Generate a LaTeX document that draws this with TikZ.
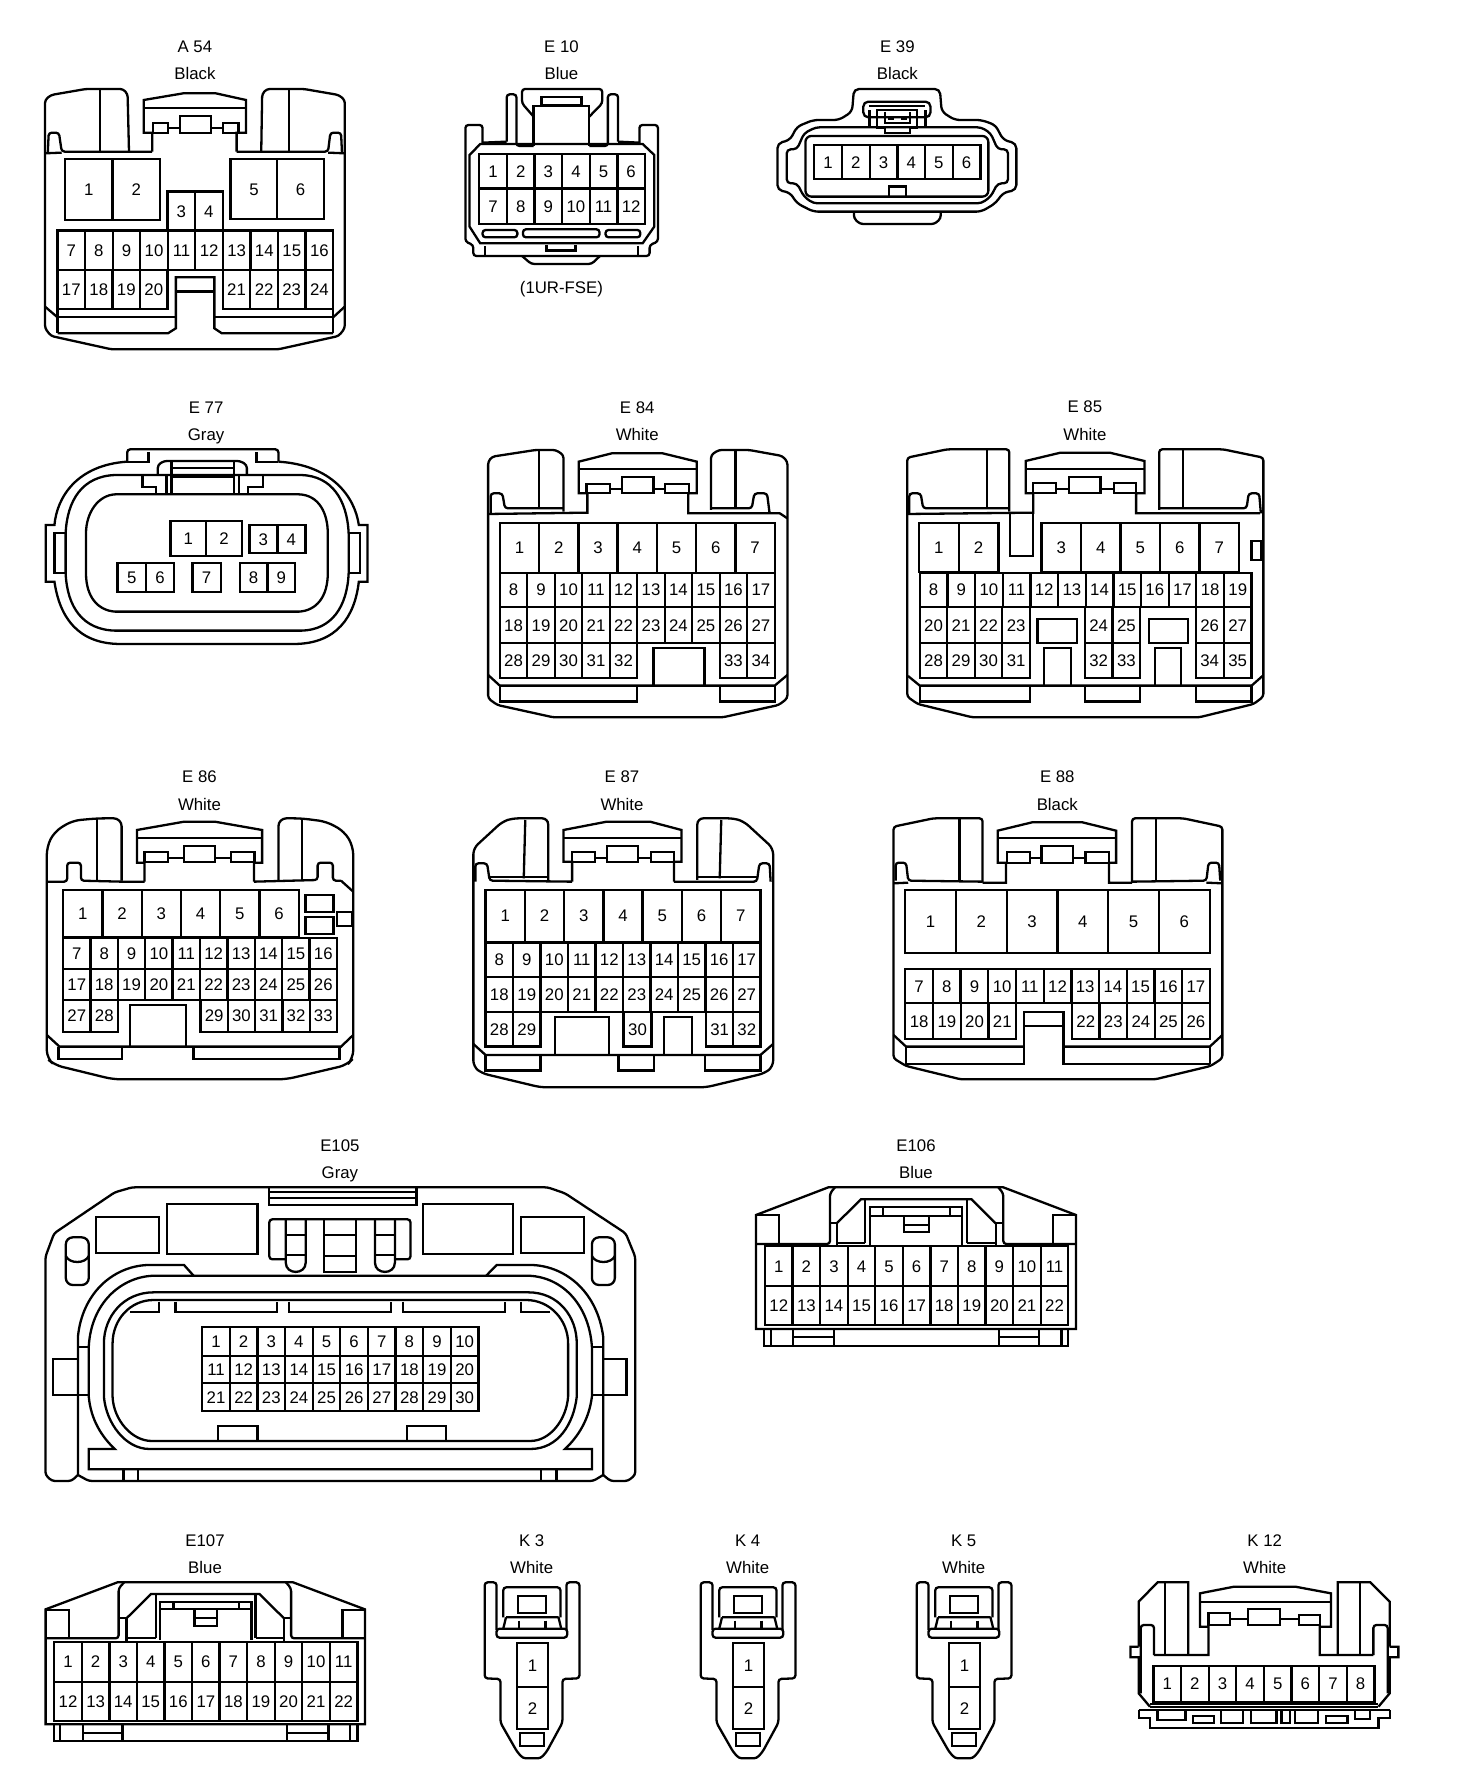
\documentclass[tikz,border=0pt]{standalone}
\usepackage{fontspec}
\setmainfont{Liberation Sans}
\usepackage{tikz}

% one row of equal cavities: name, left, right, top, bottom, first pin, last pin
\newcommand{\pinrow}[7]{%
  \pgfmathsetmacro{\cellw}{(#3-#2)/(#7-#6+1)}
  \foreach \n in {#6,...,#7} {
    \pgfmathsetmacro{\cellx}{#2+(\n-#6)*\cellw}
    \draw (\cellx,#4) rectangle (\cellx+\cellw,#5);
    \node[pinnum] (#1p\n) at ({\cellx+\cellw/2},{(#4+#5)/2}) {\n};
  }
}

\begin{document}
\begin{tikzpicture}[
    x=1pt, y=-1pt,
    line width=2.3pt,
    view/.style n args={3}{shift={(#1,#2)}, x=#3pt, y=-.3333pt},
    shell/.style={rounded corners=3pt},
    pinnum/.style={inner sep=0pt, text height=12pt, text depth=0pt, font=\fontsize{16.8}{18}\selectfont},
    partname/.style={inner sep=0pt, text height=12pt, text depth=0pt, font=\fontsize{16.8}{18}\selectfont},
]
\fill[white] (0,0) rectangle (1456,1774);
\useasboundingbox (0,0) rectangle (1456,1774);

% A 54
\begin{scope}[view={0}{0}{.464}]
\node[partname] (A54name) at (420,140) {A 54};
\node[partname] (A54color) at (420,222) {Black};
\draw[shell] (278,455) -- (275,282) -- (265,267) -- (185,267) -- (110,285) -- (97,300) -- (97,985) -- (110,1008) -- (240,1048) -- (600,1048) -- (730,1008) -- (743,985) -- (743,300) -- (730,285) -- (655,267) -- (575,267) -- (565,282) -- (563,455);
\draw (215,267) -- (215,455) (623,267) -- (623,455);
\draw[shell] (103,458) -- (105,398) -- (127,398) -- (133,455) -- (328,455);
\draw[shell] (737,458) -- (735,398) -- (712,398) -- (707,455) -- (510,455);
\draw (97,460) -- (133,458) (743,460) -- (707,458);
\draw (328,455) -- (328,398) -- (310,398) -- (310,300) -- (395,280) -- (465,280) -- (530,300) -- (530,398) -- (510,398) -- (510,455);
\draw (310,325) -- (530,325);
\draw (330,398) rectangle (362,368) (388,398) rectangle (455,348) (480,398) rectangle (514,368);
\draw (362,385) -- (388,385) (455,385) -- (480,385);
\pinrow{A54}{140}{345}{478}{660}{1}{2}
\pinrow{A54}{361}{480}{575}{692}{3}{4}
\pinrow{A54}{497}{698}{478}{658}{5}{6}
\pinrow{A54}{124}{718}{692}{810}{7}{16}
\pinrow{A54}{124}{361}{810}{928}{17}{20}
\pinrow{A54}{480}{718}{810}{928}{21}{24}
\draw (124,952) -- (379,952) (462,952) -- (718,952);
\draw (97,920) -- (124,952) (743,920) -- (718,952);
\draw (124,928) -- (124,1000) (718,928) -- (718,1000);
\draw (124,1000) -- (362,1000) -- (379,985) -- (379,832) -- (462,832) -- (462,985) -- (478,1000) -- (718,1000);
\draw (379,875) -- (462,875);
\end{scope}

% E 10
\begin{scope}[view={0}{0}{.464}]
\node[partname] (E10name) at (1210,140) {E 10};
\node[partname] (E10color) at (1210,222) {Blue};
\node[partname] (E10note) at (1210,862) {(1UR-FSE)};
\draw[shell] (1040,430) -- (1040,375) -- (1003,375) -- (1003,725) -- (1020,735) -- (1020,768) -- (1400,768) -- (1400,735) -- (1418,725) -- (1418,375) -- (1378,375) -- (1378,430);
\draw (1040,428) -- (1092,425);
\draw[shell] (1092,425) -- (1092,283) -- (1113,283) -- (1113,438) -- (1150,438);
\draw (1150,438) -- (1150,318) -- (1270,318) -- (1270,438);
\draw[shell] (1270,438) -- (1310,438) -- (1310,283) -- (1332,283) -- (1332,425);
\draw (1332,425) -- (1378,428);
\draw[shell] (1150,350) -- (1125,310) -- (1125,267) -- (1298,267) -- (1298,310) -- (1270,350);
\draw (1167,315) rectangle (1253,290);
\draw (1012,465) -- (1035,432) -- (1385,432) -- (1410,465) -- (1410,680) -- (1385,730) -- (1035,730) -- (1012,680) -- cycle;
\pinrow{E10}{1033}{1390}{463}{566}{1}{6}
\pinrow{E10}{1033}{1390}{566}{672}{7}{12}
\draw[shell] (1040,690) rectangle (1115,712);
\draw[shell] (1127,688) rectangle (1292,712);
\draw[shell] (1305,690) rectangle (1380,712);
\draw (1045,738) -- (1045,768) (1375,738) -- (1375,768);
\draw (1178,735) -- (1178,752) -- (1240,752) -- (1240,735);
\draw[shell] (1125,768) -- (1145,792) -- (1275,792) -- (1293,768);
\end{scope}

% E 39
\begin{scope}[view={727}{0}{.4667}]
\node[partname] (E39name) at (365,140) {E 39};
\node[partname] (E39color) at (365,222) {Black};
\draw[rounded corners=5pt] (108,430) -- (135,420) -- (150,380) -- (185,360) -- (240,360) -- (268,335) -- (272,267) -- (456,267) -- (460,335) -- (488,360) -- (545,360) -- (575,375) -- (592,420) -- (620,430) -- (620,570) -- (592,578) -- (575,610) -- (545,635) -- (185,635) -- (150,610) -- (135,578) -- (108,570) -- cycle;
\draw[rounded corners=4pt] (128,448) -- (150,448) -- (165,400) -- (190,382) -- (545,382) -- (565,400) -- (580,448) -- (602,448) -- (602,550) -- (580,550) -- (565,590) -- (545,610) -- (185,610) -- (165,590) -- (150,550) -- (128,550) -- cycle;
\draw[rounded corners=6pt] (168,408) rectangle (560,590);
\draw (347,588) -- (347,560) -- (384,560) -- (384,588);
\draw[rounded corners=5pt] (292,305) rectangle (436,352);
\draw (305,318) -- (425,318) (305,382) -- (305,330) (425,382) -- (425,330);
\draw (322,330) -- (322,385) -- (338,385) -- (338,398) -- (392,398) -- (392,385) -- (407,385) -- (407,330) -- cycle;
\draw (338,335) -- (338,370) -- (392,370) -- (392,335);
\draw (345,358) -- (357,358) (373,358) -- (385,358);
\pinrow{E39}{187}{543}{435}{538}{1}{6}
\draw[shell] (272,635) -- (272,655) -- (285,672) -- (445,672) -- (458,655) -- (458,635);
\end{scope}

% E 77
\begin{scope}[view={1}{390}{.509}]
\node[partname] (E77name) at (403,52) {E 77};
\node[partname] (E77color) at (403,135) {Gray};
\draw (248,215) .. controls (150,225) and (110,320) .. (105,405) -- (88,405) -- (88,575) -- (105,575) .. controls (115,680) and (150,762) .. (235,762) -- (575,762) .. controls (660,762) and (695,680) .. (703,575) -- (720,575) -- (720,405) -- (703,405) .. controls (695,320) and (650,225) .. (545,215);
\draw[shell] (248,215) -- (248,178) -- (545,178) -- (545,215);
\draw (248,215) -- (290,215) -- (290,185) (545,215) -- (502,215) -- (502,185);
\draw (225,255) -- (590,255) .. controls (650,258) and (680,330) .. (683,430) -- (683,550) .. controls (680,650) and (650,720) .. (590,722) -- (225,722) .. controls (160,720) and (130,650) .. (127,550) -- (127,430) .. controls (130,330) and (160,258) .. (225,255) -- cycle;
\draw (225,313) -- (585,313) .. controls (625,315) and (642,370) .. (642,430) -- (642,550) .. controls (642,620) and (620,662) .. (585,665) -- (225,665) .. controls (190,662) and (167,620) .. (167,550) -- (167,430) .. controls (167,370) and (190,315) .. (225,313) -- cycle;
\draw (127,430) -- (105,430) -- (105,550) -- (127,550) (683,430) -- (705,430) -- (705,550) -- (683,550);
\draw[shell] (308,255) -- (308,225) -- (320,213) -- (470,213) -- (483,225) -- (483,255);
\draw (335,213) -- (335,313) (458,213) -- (458,313) (335,235) -- (458,235) (335,260) -- (458,260);
\draw (278,258) -- (278,292) -- (305,292) -- (305,313) (515,258) -- (515,292) -- (485,292) -- (485,313);
\draw (325,258) -- (325,313) (468,258) -- (468,313);
\pinrow{E77}{333}{473}{393}{498}{1}{2}
\pinrow{E77}{488}{598}{405}{490}{3}{4}
\pinrow{E77}{229}{340}{520}{605}{5}{6}
\pinrow{E77}{376}{432}{520}{605}{7}{7}
\pinrow{E77}{469}{578}{520}{605}{8}{9}
\end{scope}

% E 84
\begin{scope}[view={1}{390}{.509}]
\node[partname] (E84name) at (1250,52) {E 84};
\node[partname] (E84color) at (1250,135) {White};
\draw[shell] (1105,365) -- (1105,195) -- (1090,180) -- (1050,180) -- (965,200) -- (957,215) -- (957,925) -- (975,945) -- (1085,982) -- (1418,982) -- (1528,945) -- (1545,925) -- (1545,215) -- (1535,198) -- (1470,180) -- (1410,180) -- (1395,195) -- (1395,360);
\draw (1057,180) -- (1057,355) (1443,180) -- (1443,355);
\draw[shell] (962,370) -- (962,310) -- (985,310) -- (990,355) -- (1105,355);
\draw[shell] (1395,355) -- (1475,355) -- (1480,310) -- (1505,310) -- (1510,370);
\draw (957,372) -- (1152,368) -- (1152,310) -- (1135,310) -- (1135,215) -- (1200,190) -- (1300,190) -- (1367,215) -- (1367,310) -- (1350,310) -- (1350,370) -- (1530,370) -- (1545,385);
\draw (1135,238) -- (1367,238);
\draw (1150,310) rectangle (1197,282) (1220,310) rectangle (1282,262) (1305,310) rectangle (1352,282);
\draw (1197,298) -- (1220,298) (1282,298) -- (1305,298);
\pinrow{E84}{980}{1520}{398}{548}{1}{7}
\pinrow{E84}{980}{1520}{548}{652}{8}{17}
\pinrow{E84}{980}{1520}{652}{760}{18}{27}
\pinrow{E84}{980}{1250}{760}{865}{28}{32}
\pinrow{E84}{1412}{1520}{760}{865}{33}{34}
\draw (1282,887) -- (1282,775) -- (1382,775) -- (1382,887);
\draw (957,855) -- (980,887) -- (1520,887) -- (1545,855);
\draw (980,887) -- (980,935) -- (1250,935) -- (1250,890);
\draw (1412,890) -- (1412,935) -- (1520,935) -- (1520,887);
\end{scope}

% E 85
\begin{scope}[view={798}{390}{.42}]
\node[partname] (E85name) at (683,50) {E 85};
\node[partname] (E85color) at (683,135) {White};
\draw[shell] (503,365) -- (503,178) -- (355,178) -- (260,203) -- (260,920) -- (285,942) -- (415,982) -- (955,982) -- (1085,942) -- (1108,920) -- (1108,203) -- (1012,178) -- (860,178) -- (860,360);
\draw (450,180) -- (450,355) (917,180) -- (917,355);
\draw[shell] (265,370) -- (265,310) -- (292,310) -- (298,355) -- (503,355);
\draw[shell] (860,355) -- (1068,355) -- (1073,310) -- (1098,310) -- (1102,370);
\draw (260,372) -- (560,368) -- (560,310) -- (542,310) -- (542,213) -- (625,188) -- (742,188) -- (825,213) -- (825,310) -- (805,310) -- (805,370) -- (1100,370);
\draw (542,238) -- (825,238);
\draw (560,310) rectangle (615,280) (645,310) rectangle (720,262) (752,310) rectangle (805,280);
\draw (615,298) -- (645,298) (720,298) -- (752,298);
\draw (505,370) -- (505,497) -- (560,497) -- (560,310);
\draw (1080,453) rectangle (1102,510);
\pinrow{E85}{288}{477}{398}{545}{1}{2}
\pinrow{E85}{580}{1050}{398}{545}{3}{7}
\pinrow{E85}{290}{1080}{548}{652}{8}{19}
\pinrow{E85}{290}{552}{652}{760}{20}{23}
\pinrow{E85}{683}{815}{652}{760}{24}{25}
\pinrow{E85}{947}{1080}{652}{760}{26}{27}
\pinrow{E85}{290}{552}{760}{865}{28}{31}
\pinrow{E85}{683}{815}{760}{865}{32}{33}
\pinrow{E85}{947}{1080}{760}{865}{34}{35}
\draw (570,688) rectangle (665,760) (835,688) rectangle (928,760);
\draw (585,887) -- (585,775) -- (650,775) -- (650,887) (850,887) -- (850,775) -- (912,775) -- (912,887);
\draw (262,858) -- (290,887) -- (1080,887) -- (1106,858);
\draw (290,887) -- (290,935) -- (552,935) -- (552,890);
\draw (683,890) -- (683,935) -- (815,935) -- (815,890);
\draw (947,890) -- (947,935) -- (1080,935) -- (1080,887);
\end{scope}

% E 86
\begin{scope}[view={1}{760}{.509}]
\node[partname] (E86name) at (390,48) {E 86};
\node[partname] (E86color) at (390,132) {White};
\draw[rounded corners=8pt] (237,362) -- (237,175) -- (190,175) -- (140,182) -- (105,215) -- (90,260) -- (90,895) -- (105,915) -- (220,958) -- (560,958) -- (680,915) -- (692,895) -- (692,260) -- (675,215) -- (640,185) -- (590,175) -- (545,175) -- (545,360);
\draw (188,175) -- (188,362) (592,175) -- (592,360);
\draw[shell] (90,365) -- (130,365) -- (130,308) -- (157,308) -- (157,362) -- (237,365) -- (282,365);
\draw (282,365) -- (282,308) -- (267,308) -- (267,210) -- (360,185) -- (420,185) -- (513,210) -- (513,308) -- (497,308) -- (497,365);
\draw[shell] (497,365) -- (622,360) -- (622,308) -- (652,308) -- (652,362) -- (668,362);
\draw (668,362) -- (692,395);
\draw (270,233) -- (513,233);
\draw (282,305) rectangle (328,275) (360,305) rectangle (420,258) (452,305) rectangle (498,275);
\draw (328,295) -- (360,295) (420,295) -- (452,295);
\draw (598,405) rectangle (653,455) (598,470) rectangle (653,523) (660,455) rectangle (690,497);
\pinrow{E86}{122}{585}{390}{530}{1}{6}
\pinrow{E86}{122}{660}{533}{626}{7}{16}
\pinrow{E86}{122}{660}{626}{720}{17}{26}
\pinrow{E86}{122}{230}{720}{815}{27}{28}
\pinrow{E86}{392}{660}{720}{815}{29}{33}
\draw (253,860) -- (253,735) -- (363,735) -- (363,860);
\draw (90,825) -- (115,860) -- (668,860) -- (692,825);
\draw (113,860) -- (113,898) -- (238,898) -- (238,862);
\draw (378,862) -- (378,898) -- (665,898) -- (665,860);
\end{scope}

% E 87
\begin{scope}[view={1}{760}{.509}]
\node[partname] (E87name) at (1220,48) {E 87};
\node[partname] (E87color) at (1220,132) {White};
\draw[rounded corners=6pt] (1075,360) -- (1075,175) -- (1005,175) -- (985,185) -- (928,265) -- (928,920) -- (945,940) -- (1060,982) -- (1385,982) -- (1500,940) -- (1517,920) -- (1517,265) -- (1460,185) -- (1440,175) -- (1368,175) -- (1368,360);
\draw (1030,180) -- (1027,355) (1415,180) -- (1412,355);
\draw[shell] (932,365) -- (932,310) -- (955,310) -- (960,362) -- (1122,365);
\draw (1122,365) -- (1122,305) -- (1105,305) -- (1105,210) -- (1190,185) -- (1275,185) -- (1337,210) -- (1337,305) -- (1322,305) -- (1322,365);
\draw[shell] (1322,365) -- (1485,365) -- (1490,310) -- (1510,310) -- (1512,365);
\draw (960,352) -- (1075,352) (1368,352) -- (1485,352);
\draw (1105,233) -- (1337,233);
\draw (1122,305) rectangle (1167,275) (1190,305) rectangle (1252,258) (1277,305) rectangle (1322,275);
\draw (1167,295) -- (1190,295) (1252,295) -- (1277,295);
\pinrow{E87}{952}{1492}{390}{545}{1}{7}
\pinrow{E87}{952}{1492}{548}{650}{8}{17}
\pinrow{E87}{952}{1492}{650}{755}{18}{27}
\pinrow{E87}{952}{1060}{755}{860}{28}{29}
\pinrow{E87}{1223}{1278}{755}{860}{30}{30}
\pinrow{E87}{1385}{1492}{755}{860}{31}{32}
\draw (1088,885) -- (1088,772) -- (1195,772) -- (1195,885) (1303,885) -- (1303,772) -- (1357,772) -- (1357,885);
\draw (928,852) -- (952,885) -- (1492,885) -- (1517,852);
\draw (952,885) -- (952,932) -- (1060,932) -- (1060,887);
\draw (1213,887) -- (1213,932) -- (1283,932) -- (1283,887);
\draw (1383,887) -- (1383,932) -- (1492,932) -- (1492,885);
\end{scope}

% E 88
\begin{scope}[view={799}{760}{.42}]
\node[partname] (E88name) at (615,48) {E 88};
\node[partname] (E88color) at (615,132) {Black};
\draw[shell] (437,368) -- (437,175) -- (320,175) -- (225,200) -- (225,895) -- (255,918) -- (385,958) -- (848,958) -- (980,918) -- (1008,895) -- (1008,200) -- (915,175) -- (793,175) -- (793,368);
\draw (382,178) -- (382,362) (850,178) -- (850,362);
\draw[shell] (230,362) -- (230,308) -- (255,308) -- (260,362) -- (437,365);
\draw[shell] (793,365) -- (970,362) -- (975,308) -- (1000,308) -- (1003,362);
\draw (225,370) -- (260,368) (437,368) -- (493,368) -- (493,308) -- (473,308) -- (473,212) -- (555,187) -- (675,187) -- (755,212) -- (755,308) -- (738,308) -- (738,368) -- (793,368) (970,368) -- (1008,370);
\draw (475,235) -- (755,235);
\draw (495,308) rectangle (550,275) (577,308) rectangle (653,258) (682,308) rectangle (738,275);
\draw (550,295) -- (577,295) (653,295) -- (682,295);
\pinrow{E88}{253}{978}{390}{578}{1}{6}
\pinrow{E88}{253}{978}{627}{730}{7}{17}
\pinrow{E88}{253}{517}{730}{838}{18}{21}
\pinrow{E88}{650}{978}{730}{838}{22}{26}
\draw (255,912) -- (535,912) -- (535,755) -- (630,755) -- (630,912) -- (978,912);
\draw (535,798) -- (630,798);
\draw (225,825) -- (255,860) -- (535,860) (630,860) -- (978,860) -- (1008,825);
\draw (255,860) -- (255,912) (978,860) -- (978,912);
\end{scope}

% E105
\begin{scope}[view={0}{1130}{.433}]
\node[partname] (E105name) at (785,45) {E105};
\node[partname] (E105color) at (785,128) {Gray};
\draw[shell] (180,1035) -- (165,1053) -- (120,1053) -- (105,1035) -- (105,380) -- (125,310) -- (265,187) -- (305,172) -- (1265,172) -- (1305,190) -- (1445,310) -- (1467,380) -- (1467,1035) -- (1450,1053) -- (1410,1053) -- (1393,1035);
\draw[shell] (180,1035) -- (205,1053) -- (1370,1053) -- (1393,1035);
\draw (180,1035) -- (180,620) .. controls (190,490) and (260,410) .. (340,405) -- (425,405) -- (447,437);
\draw (1393,1035) -- (1393,620) .. controls (1380,490) and (1310,410) .. (1230,405) -- (1147,405) -- (1123,437);
\draw (205,650) .. controls (210,520) and (280,437) .. (360,437) -- (1215,437) .. controls (1295,437) and (1360,520) .. (1367,650) -- (1367,800) .. controls (1360,870) and (1335,920) .. (1305,957) -- (1367,957) -- (1367,1018) -- (205,1018) -- (205,957) -- (265,957) .. controls (235,920) and (210,870) .. (205,800) -- cycle;
\draw (355,487) -- (1220,487) .. controls (1290,487) and (1332,560) .. (1332,640) -- (1332,800) .. controls (1325,880) and (1290,957) .. (1225,957) -- (345,957) .. controls (290,957) and (245,880) .. (240,800) -- (240,640) .. controls (240,560) and (285,487) .. (355,487) -- cycle;
\draw (355,510) -- (1215,510) .. controls (1270,510) and (1312,570) .. (1312,640) -- (1312,800) .. controls (1308,870) and (1270,933) .. (1225,933) -- (350,933) .. controls (305,933) and (262,870) .. (260,800) -- (260,640) .. controls (260,570) and (300,510) .. (355,510) -- cycle;
\draw (405,515) -- (405,545) -- (640,545) -- (640,515) (667,515) -- (667,545) -- (903,545) -- (903,515) (930,515) -- (930,545) -- (1167,545) -- (1167,515);
\draw (368,515) -- (368,545) -- (300,545) (1203,515) -- (1203,545) -- (1270,545);
\draw (503,933) -- (503,888) -- (595,888) -- (595,933) (940,933) -- (940,888) -- (1030,888) -- (1030,933);
\draw (180,688) -- (123,688) -- (123,795) -- (205,795) (180,650) -- (205,650);
\draw (1393,688) -- (1447,688) -- (1447,795) -- (1367,795) (1367,650) -- (1393,650);
\draw (285,1018) -- (285,1053) (318,1018) -- (318,1053) (1250,1018) -- (1250,1053) (1285,1018) -- (1285,1053);
\draw (222,262) rectangle (368,370) (386,222) rectangle (595,372) (977,222) rectangle (1185,372) (1203,262) rectangle (1348,370);
\draw (622,172) -- (622,224) -- (962,224) -- (962,172) (622,187) -- (962,187) (622,205) -- (962,205);
\draw[shell] (660,388) -- (622,388) -- (622,268) -- (948,268) -- (948,388) -- (912,388);
\foreach \fx in {660,866} {
  \draw (\fx,268) -- (\fx,398) .. controls (\fx,435) and (\fx+46,435) .. (\fx+46,398) -- (\fx+46,268);
  \draw (\fx,315) -- (\fx+46,315) (\fx,375) -- (\fx+46,375);
}
\draw (748,268) -- (748,425) -- (822,425) -- (822,268) (748,315) -- (822,315) (748,378) -- (822,378);
\foreach \cx in {152,1367} {
  \draw[rounded corners=7pt] (\cx,322) rectangle (\cx+53,465);
  \draw (\cx,378) .. controls (\cx+8,402) and (\cx+45,402) .. (\cx+53,378);
}
\pinrow{E105}{467}{1105}{592}{677}{1}{10}
\pinrow{E105}{467}{1105}{677}{760}{11}{20}
\pinrow{E105}{467}{1105}{760}{843}{21}{30}
\end{scope}

% E106
\begin{scope}[view={730}{1130}{.3333}]
\node[partname] (E106name) at (558,45) {E106};
\node[partname] (E106color) at (558,128) {Blue};
\draw (78,597) -- (78,255) -- (295,172) -- (820,172) -- (1038,255) -- (1038,597) -- cycle;
\draw (78,255) -- (148,255) -- (148,340) (1038,255) -- (970,255) -- (970,340);
\draw[shell] (78,342) -- (300,342) -- (300,190) -- (315,172);
\draw[shell] (1038,342) -- (820,342) -- (820,190) -- (805,172);
\draw (300,280) -- (320,280) -- (320,350) (797,350) -- (797,280) -- (820,280);
\draw (320,280) -- (393,208) -- (725,208) -- (797,280);
\draw (405,340) -- (405,208) (712,340) -- (712,208);
\draw (320,338) -- (405,338) (712,338) -- (797,338);
\draw (420,345) -- (420,232) -- (697,232) -- (697,345) (420,258) -- (697,258) (460,232) -- (460,258) (660,232) -- (660,258);
\draw (522,258) -- (522,305) -- (597,305) -- (597,258) (522,285) -- (597,285);
\pinrow{E106}{105}{1015}{348}{468}{1}{11}
\pinrow{E106}{105}{1015}{468}{585}{12}{22}
\draw (102,597) -- (102,648) -- (1015,648) -- (1015,597);
\draw (122,597) -- (122,648) (995,597) -- (995,648) (190,597) -- (190,648) (312,597) -- (312,648) (808,597) -- (808,648) (927,597) -- (927,648);
\draw (190,622) -- (312,622) (808,622) -- (927,622);
\end{scope}

% E107
\begin{scope}[view={1}{1530}{.3947}]
\node[partname] (E107name) at (517,32) {E107};
\node[partname] (E107color) at (517,112) {Blue};
\draw (113,583) -- (113,238) -- (295,157) -- (740,157) -- (922,238) -- (922,583) -- cycle;
\draw (113,240) -- (172,240) -- (172,325) (922,240) -- (865,240) -- (865,325);
\draw[shell] (113,325) -- (298,325) -- (298,175) -- (312,157);
\draw[shell] (922,325) -- (735,325) -- (735,175) -- (722,157);
\draw (298,265) -- (318,265) -- (318,335) (717,335) -- (717,265) -- (735,265);
\draw (318,265) -- (380,192) -- (655,192) -- (717,265);
\draw (392,325) -- (392,192) (645,325) -- (645,192) (318,325) -- (392,325) (645,325) -- (717,325);
\draw (403,330) -- (403,215) -- (635,215) -- (635,330) (403,238) -- (635,238) (437,215) -- (437,238) (603,215) -- (603,238);
\draw (490,238) -- (490,288) -- (548,288) -- (548,238) (490,265) -- (548,265);
\pinrow{E107}{135}{903}{335}{455}{1}{11}
\pinrow{E107}{135}{903}{455}{572}{12}{22}
\draw (135,583) -- (135,632) -- (903,632) -- (903,583);
\draw (150,583) -- (150,632) (885,583) -- (885,632) (207,583) -- (207,632) (308,583) -- (308,632) (725,583) -- (725,632) (830,583) -- (830,632);
\draw (207,608) -- (308,608) (725,608) -- (830,608);
\end{scope}

% K 3, K 4, K 5
\foreach \part/\partlabel/\dx in {K3/K 3/0, K4/K 4/216, K5/K 5/432} {
\begin{scope}[view={\dx}{1530}{.3947}]
\node[partname] (\part name) at (1347,32) {\partlabel};
\node[partname] (\part color) at (1347,112) {White};
\draw[shell] (1258,300) -- (1258,157) -- (1228,157) -- (1228,445) -- (1268,447) -- (1268,578) -- (1310,665) -- (1325,685) -- (1370,685) -- (1385,665) -- (1425,578) -- (1425,447) -- (1468,445) -- (1468,157) -- (1435,157) -- (1435,300);
\draw[shell] (1275,262) -- (1275,172) -- (1420,172) -- (1420,262);
\draw (1313,198) rectangle (1383,248) (1318,610) rectangle (1378,647);
\draw[shell] (1258,296) -- (1258,323) -- (1437,323) -- (1437,296) -- cycle;
\draw (1282,262) -- (1415,262) (1282,262) -- (1275,296) (1415,262) -- (1422,296);
\draw (1315,272) -- (1315,296) (1382,272) -- (1382,296);
\pinrow{\part}{1310}{1388}{340}{470}{1}{1}
\pinrow{\part}{1310}{1388}{470}{598}{2}{2}
\end{scope}
}

% K 12
\begin{scope}[view={655}{1530}{.5102}]
\node[partname] (K12name) at (1195,32) {K 12};
\node[partname] (K12color) at (1195,112) {White};
\draw (948,350) -- (948,215) -- (985,157) -- (1045,157) -- (1045,375) (1440,350) -- (1440,215) -- (1402,157) -- (1338,157) -- (1338,375);
\draw (1000,157) -- (1000,375) (1382,157) -- (1382,375);
\draw (978,375) -- (1085,375) -- (1085,290) -- (1068,290) -- (1068,190) -- (1135,170) -- (1255,170) -- (1325,190) -- (1325,290) -- (1303,290) -- (1303,375) -- (1408,375);
\draw (1068,215) -- (1325,215);
\draw (1085,285) rectangle (1127,250) (1162,285) rectangle (1225,238) (1262,285) rectangle (1303,255);
\draw (1127,268) -- (1162,268) (1225,268) -- (1262,268);
\draw (948,350) -- (932,350) -- (932,382) -- (948,382) -- (948,490) -- (970,530);
\draw (1440,350) -- (1457,350) -- (1457,382) -- (1440,382) -- (1440,490) -- (1418,530);
\draw[shell] (952,490) -- (952,285) -- (978,285) -- (978,375);
\draw[shell] (1408,375) -- (1408,285) -- (1436,285) -- (1436,490);
\pinrow{K12}{977}{1410}{408}{515}{1}{8}
\draw (970,522) -- (1418,522) (970,530) -- (1418,530);
\draw (948,540) -- (1440,540);
\draw (948,540) -- (948,565) -- (970,565) -- (970,595) -- (1418,595) -- (1418,565) -- (1440,565) -- (1440,540);
\draw (985,540) -- (985,570) -- (1040,570) -- (1040,540) (1110,540) -- (1110,578) -- (1152,578) -- (1152,540) (1168,540) -- (1168,578) -- (1218,578) -- (1218,540);
\draw (1228,540) -- (1228,578) -- (1245,578) -- (1245,540) (1255,540) -- (1255,578) -- (1300,578) -- (1300,540) (1372,540) -- (1372,568) -- (1402,568) -- (1402,540);
\draw (1055,558) rectangle (1095,580) (1315,558) rectangle (1357,578);
\end{scope}

\end{tikzpicture}
\end{document}
